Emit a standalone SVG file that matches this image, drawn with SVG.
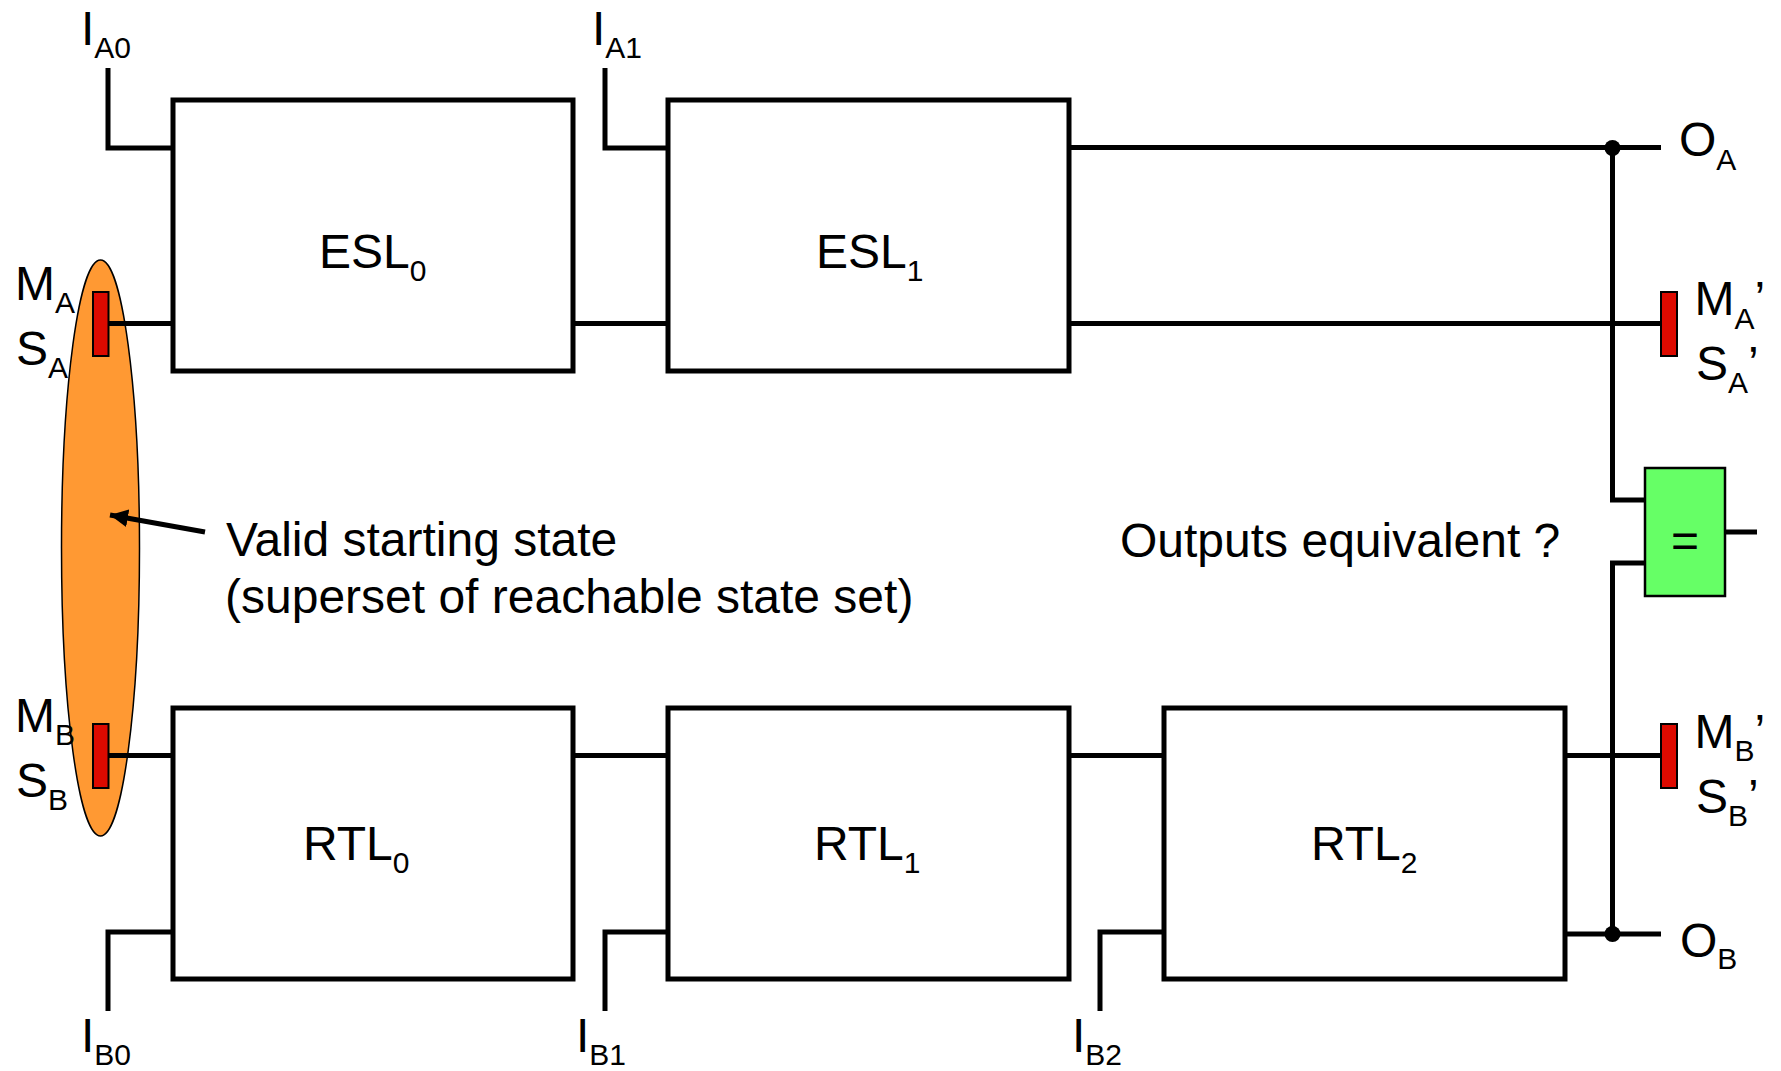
<svg xmlns="http://www.w3.org/2000/svg" width="1781" height="1071" viewBox="0 0 1781 1071">
<defs>
<style>
text{font-family:"Liberation Sans",Arial,Helvetica,sans-serif;font-size:48px;fill:#000}
.sub{font-size:30px}
.box{fill:#fff;stroke:#000;stroke-width:5}
.wire{fill:none;stroke:#000;stroke-width:5}
.reg{fill:#dd0a00;stroke:#000;stroke-width:2}
</style>
<marker id="ah" markerUnits="userSpaceOnUse" markerWidth="20" markerHeight="18" refX="18" refY="9" orient="auto">
<path d="M0,0 L18,9 L0,18 Z" fill="#000"/>
</marker>
</defs>
<rect width="1781" height="1071" fill="#fff"/>

<g id="state-set">
<ellipse cx="100.5" cy="548" rx="39" ry="288" fill="#ff9933" stroke="#000" stroke-width="1.5"/>
</g>

<g id="connectors">
<path class="wire" d="M108 68V148H173"/>
<path class="wire" d="M605 68V148H668"/>
<path class="wire" d="M108 323.5H173"/>
<path class="wire" d="M573 323.5H668"/>
<path class="wire" d="M1069 323.5H1661"/>
<path class="wire" d="M1069 147.5H1661"/>
<path class="wire" d="M1645 500H1612.5V147.5"/>
<path class="wire" d="M1645 563H1612.5V934"/>
<path class="wire" d="M1724 532H1757"/>
<path class="wire" d="M108 755.5H173"/>
<path class="wire" d="M573 755.5H668"/>
<path class="wire" d="M1069 755.5H1164"/>
<path class="wire" d="M1565 755.5H1661"/>
<path class="wire" d="M1565 934H1661"/>
<path class="wire" d="M108 1011V932H173"/>
<path class="wire" d="M605 1011V932H668"/>
<path class="wire" d="M1100 1011V932H1164"/>
<circle cx="1612.5" cy="148" r="8"/>
<circle cx="1612.5" cy="934" r="8"/>
<line x1="205" y1="532" x2="110" y2="515" stroke="#000" stroke-width="5" marker-end="url(#ah)"/>
</g>

<g id="esl0"><rect class="box" x="173" y="100" width="400" height="271"/>
<text x="319" y="268">ESL<tspan class="sub" dy="13">0</tspan></text></g>
<g id="esl1"><rect class="box" x="668" y="100" width="401" height="271"/>
<text x="816" y="268">ESL<tspan class="sub" dy="13">1</tspan></text></g>
<g id="rtl0"><rect class="box" x="173" y="708" width="400" height="271"/>
<text x="303" y="860">RTL<tspan class="sub" dy="13">0</tspan></text></g>
<g id="rtl1"><rect class="box" x="668" y="708" width="401" height="271"/>
<text x="814" y="860">RTL<tspan class="sub" dy="13">1</tspan></text></g>
<g id="rtl2"><rect class="box" x="1164" y="708" width="401" height="271"/>
<text x="1311" y="860">RTL<tspan class="sub" dy="13">2</tspan></text></g>

<g id="compare"><rect x="1645" y="468" width="80" height="128" fill="#66ff66" stroke="#000" stroke-width="2.5"/>
<text x="1685" y="557" text-anchor="middle">=</text></g>

<g id="reg-a-in"><rect class="reg" x="93" y="292" width="15.5" height="64"/></g>
<g id="reg-b-in"><rect class="reg" x="93" y="724" width="15.5" height="64"/></g>
<g id="reg-a-out"><rect class="reg" x="1661" y="292" width="16" height="64"/></g>
<g id="reg-b-out"><rect class="reg" x="1661" y="724" width="16" height="64"/></g>

<g id="labels">
<text x="81" y="45">I<tspan class="sub" dy="13">A0</tspan></text>
<text x="592" y="45">I<tspan class="sub" dy="13">A1</tspan></text>
<text x="81" y="1052">I<tspan class="sub" dy="13">B0</tspan></text>
<text x="576" y="1052">I<tspan class="sub" dy="13">B1</tspan></text>
<text x="1072" y="1052">I<tspan class="sub" dy="13">B2</tspan></text>
<text x="15" y="300">M<tspan class="sub" dy="13">A</tspan></text>
<text x="16" y="365">S<tspan class="sub" dy="13">A</tspan></text>
<text x="15" y="732">M<tspan class="sub" dy="13">B</tspan></text>
<text x="16" y="797">S<tspan class="sub" dy="13">B</tspan></text>
<text x="1679" y="156">O<tspan class="sub" dy="14">A</tspan></text>
<text x="1680" y="957">O<tspan class="sub" dy="12">B</tspan></text>
<text x="1694.5" y="315">M<tspan class="sub" dy="14">A</tspan><tspan dy="-14">’</tspan></text>
<text x="1696" y="380">S<tspan class="sub" dy="13">A</tspan><tspan dy="-13">’</tspan></text>
<text x="1694.5" y="748">M<tspan class="sub" dy="13">B</tspan><tspan dy="-13">’</tspan></text>
<text x="1696" y="813">S<tspan class="sub" dy="13">B</tspan><tspan dy="-13">’</tspan></text>
<text x="226" y="556">Valid starting state</text>
<text x="225" y="613">(superset of reachable state set)</text>
<text x="1120" y="557">Outputs equivalent ?</text>
</g>
</svg>
